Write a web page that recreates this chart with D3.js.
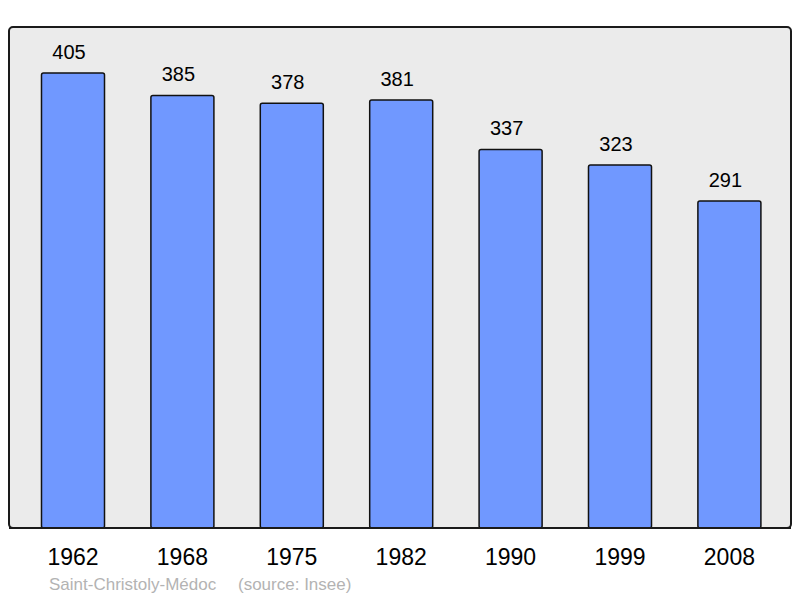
<!DOCTYPE html>
<html><head><meta charset="utf-8">
<script src="https://cdn.jsdelivr.net/npm/d3@7"></script>
<style>body{margin:0;background:#fff}svg{display:block}</style>
</head><body>
<svg id="c" width="800" height="598"></svg>
<script>
const years = ["1962","1968","1975","1982","1990","1999","2008"];
const population = [405,385,378,381,337,323,291];
const footerName = "Saint-Christoly-Médoc";
const footerSource = "(source: Insee)";

const svg = d3.select("#c");
const font = "'Liberation Sans', Arial, sans-serif";

svg.append("rect").attr("x",9).attr("y",27).attr("width",782).attr("height",501)
  .attr("rx",4).attr("fill","#ebebeb").attr("stroke","#1a1a1a").attr("stroke-width",2);

const x = d3.scaleBand().domain(years).range([18.3,784.1]).paddingInner(0.424).paddingOuter(0.212);
const y = d3.scaleLinear().domain([0,450]).range([528, 528-450*(455/405)]);

const g = svg.append("g");
g.selectAll("rect.bar").data(population).join("rect").attr("class","bar")
  .attr("x",(d,i)=>x(years[i])).attr("y",d=>y(d))
  .attr("width",x.bandwidth()).attr("height",d=>y(0)-y(d))
  .attr("rx",2).attr("fill","#7098ff").attr("stroke","#111").attr("stroke-width",1.5);

g.selectAll("text.val").data(population).join("text").attr("class","val")
  .attr("x",(d,i)=>x(years[i])+x.bandwidth()/2-4).attr("y",d=>y(d)-14)
  .attr("text-anchor","middle").attr("font-family",font).attr("font-size",20).attr("fill","#000")
  .text(d=>d);

svg.append("line").attr("x1",9).attr("x2",791).attr("y1",528).attr("y2",528).attr("stroke","#1a1a1a").attr("stroke-width",2);

svg.selectAll("text.year").data(years).join("text").attr("class","year")
  .attr("x",d=>x(d)+x.bandwidth()/2).attr("y",565)
  .attr("text-anchor","middle").attr("font-family",font).attr("font-size",23).attr("fill","#000")
  .text(d=>d);

svg.append("text").attr("x",49).attr("y",590).attr("font-family",font).attr("font-size",17)
  .attr("fill","#b3b3b3").text(footerName);
svg.append("text").attr("x",238).attr("y",590).attr("font-family",font).attr("font-size",17)
  .attr("fill","#b3b3b3").text(footerSource);
</script>
</body></html>
